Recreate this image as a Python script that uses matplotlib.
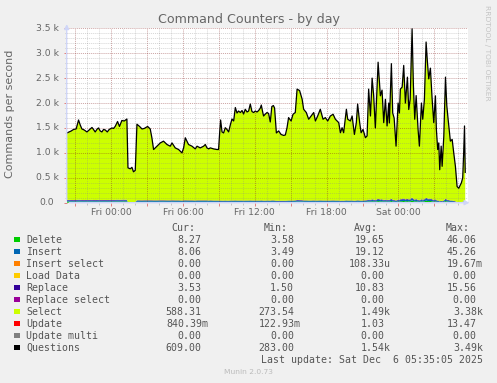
import numpy as np
import matplotlib.pyplot as plt
from matplotlib.patches import Rectangle
from matplotlib.ticker import MultipleLocator
import matplotlib.transforms as mtransforms


# data (hours since Fri 00:00) ------------------------------------------------
hours = [
    -3.70, -3.51, -3.34, -3.15, -2.93, -2.73, -2.59, -2.45, -2.26, -2.03,
    -1.84, -1.61, -1.51, -1.34, -1.17, -1.06, -0.92, -0.78, -0.64, -0.50,
    -0.33, -0.17, 0.06, 0.19, 0.33, 0.53, 0.69, 0.89, 1.09, 1.31,
    1.40, 1.59, 1.73, 1.86, 2.01, 2.15, 2.37, 2.57, 2.76, 3.04,
    3.26, 3.40, 3.54, 3.82, 4.10, 4.37, 4.66, 4.93, 5.08, 5.35,
    5.63, 5.91, 6.05, 6.19, 6.46, 6.75, 7.02, 7.17, 7.44, 7.72,
    7.86, 8.00, 8.14, 8.28, 8.55, 8.84, 8.97, 9.06, 9.14, 9.26,
    9.39, 9.53, 9.67, 9.81, 9.95, 10.09, 10.23, 10.37, 10.51, 10.64,
    10.79, 10.93, 11.06, 11.20, 11.35, 11.48, 11.62, 11.76, 11.90, 12.04,
    12.18, 12.32, 12.46, 12.54, 12.63, 12.73, 12.88, 13.02, 13.15, 13.29,
    13.42, 13.55, 13.65, 13.80, 13.99, 14.19, 14.41, 14.55, 14.69, 14.82,
    15.03, 15.19, 15.38, 15.53, 15.74, 15.95, 16.08, 16.30, 16.50, 16.70,
    16.92, 17.06, 17.25, 17.47, 17.70, 17.89, 18.09, 18.31, 18.54, 18.73,
    19.01, 19.15, 19.29, 19.42, 19.65, 19.76, 19.98, 20.13, 20.32, 20.48,
    20.59, 20.76, 20.88, 21.04, 21.24, 21.38, 21.51, 21.66, 21.80, 21.93,
    22.07, 22.30, 22.49, 22.63, 22.77, 22.91, 23.05, 23.19, 23.24, 23.41,
    23.52, 23.64, 23.80, 23.97, 24.08, 24.16, 24.31, 24.44, 24.58, 24.75,
    24.86, 24.98, 25.14, 25.25, 25.36, 25.48, 25.64, 25.75, 25.92, 26.03,
    26.17, 26.31, 26.42, 26.53, 26.67, 26.81, 26.95, 27.09, 27.17, 27.28,
    27.37, 27.45, 27.57, 27.65, 27.79, 27.93, 28.04, 28.15, 28.34, 28.49,
    28.62, 28.76, 28.90, 29.04, 29.26, 29.37, 29.45, 29.52, 29.58,
]

questions = [
    1400, 1420, 1440, 1470, 1480, 1660, 1560, 1480, 1460, 1420,
    1460, 1510, 1480, 1420, 1480, 1500, 1440, 1420, 1470, 1460,
    1420, 1470, 1500, 1490, 1530, 1630, 1530, 1650, 1640, 1680,
    700, 680, 710, 620, 650, 1575, 1530, 1480, 1490, 1530,
    1480, 1300, 1067, 1134, 1200, 1235, 1168, 1134, 1200, 1100,
    1067, 1000, 1100, 1303, 1168, 1134, 1080, 1134, 1100, 1134,
    1168, 1100, 1080, 1100, 1080, 1067, 1067, 1400, 1660, 1420,
    1400, 1505, 1470, 1420, 1560, 1680, 1640, 1910, 1800, 1840,
    1810, 1850, 1780, 1875, 1820, 1840, 1980, 1830, 1810, 1840,
    1820, 1850, 1900, 1960, 1850, 1740, 1780, 1810, 1790, 1620,
    1930, 1950, 1900, 1400, 1440, 1370, 1350, 1360, 1505, 1708,
    1640, 1775, 1810, 2280, 2250, 2080, 1875, 1810, 1675, 1740,
    1810, 1640, 1740, 1875, 1675, 1708, 1640, 1740, 1775, 1675,
    1607, 1405, 1505, 1405, 1875, 1675, 1640, 1740, 1370, 1607,
    1980, 1607, 1405, 1470, 1305, 1340, 2280, 1740, 2500, 2150,
    1500, 2820, 2145, 2260, 1607, 2075, 1540, 2000, 1600, 2790,
    1800, 1700, 1135, 2000, 1800, 2280, 2320, 2755, 2000, 2520,
    1870, 2080, 3490, 2350, 1675, 2150, 1470, 1135, 2000, 1675,
    2080, 3225, 2830, 2485, 2700, 2100, 1607, 2145, 1470, 1067,
    1200, 662, 1135, 730, 1335, 2520, 1950, 1675, 1235, 1270,
    1000, 730, 325, 290, 400, 500, 1000, 1540, 609,
]

delete = [
    22, 23, 22, 21, 22, 24, 23, 22, 21, 22,
    22, 23, 22, 21, 22, 23, 22, 21, 22, 22,
    21, 22, 23, 22, 23, 24, 23, 24, 24, 24,
    5, 4, 4, 3.6, 5, 19, 19, 18, 19, 19,
    19, 19, 18, 18, 19, 19, 18, 18, 19, 18,
    18, 17, 18, 19, 18, 18, 17, 18, 18, 18,
    18, 18, 17, 18, 17, 17, 17, 16, 17, 16,
    16, 17, 16, 16, 17, 17, 17, 18, 17, 17,
    17, 17, 16, 17, 17, 17, 18, 17, 17, 17,
    17, 17, 17, 18, 17, 16, 16, 17, 17, 16,
    18, 18, 17, 15, 15, 15, 15, 15, 16, 17,
    17, 17, 18, 22, 21, 20, 18, 18, 17, 17,
    18, 17, 17, 18, 17, 17, 17, 17, 18, 17,
    17, 15, 16, 15, 18, 17, 17, 17, 15, 17,
    19, 17, 16, 17, 18, 20, 26, 22, 28, 25,
    20, 32, 26, 28, 20, 26, 20, 25, 21, 34,
    24, 22, 16, 25, 24, 28, 30, 36, 26, 32,
    26, 28, 46, 32, 24, 30, 22, 18, 28, 24,
    28, 42, 36, 32, 35, 28, 22, 28, 20, 16,
    17, 10, 16, 11, 18, 32, 26, 22, 17, 17,
    14, 11, 5, 4, 6, 7, 13, 20, 8.27,
]

insert = [
    21, 22, 21, 20, 21, 23, 22, 21, 20, 21,
    21, 22, 21, 20, 21, 22, 21, 20, 21, 21,
    20, 21, 22, 21, 22, 23, 22, 23, 23, 23,
    4, 3.5, 4, 3.5, 4, 18, 18, 17, 18, 18,
    18, 18, 17, 17, 18, 18, 17, 17, 18, 17,
    17, 16, 17, 18, 17, 17, 16, 17, 17, 17,
    17, 17, 16, 17, 16, 16, 16, 15, 16, 15,
    15, 16, 15, 15, 16, 16, 16, 17, 16, 16,
    16, 16, 15, 16, 16, 16, 17, 16, 16, 16,
    16, 16, 16, 17, 16, 15, 15, 16, 16, 15,
    17, 17, 16, 14, 14, 14, 14, 14, 15, 16,
    16, 16, 17, 21, 20, 19, 17, 17, 16, 16,
    17, 16, 16, 17, 16, 16, 16, 16, 17, 16,
    16, 14, 15, 14, 17, 16, 16, 16, 14, 16,
    18, 16, 15, 16, 17, 19, 25, 21, 27, 24,
    19, 31, 25, 27, 19, 25, 19, 24, 20, 33,
    23, 21, 15, 24, 23, 27, 29, 35, 25, 31,
    25, 27, 45, 31, 23, 29, 21, 17, 27, 23,
    27, 41, 35, 31, 34, 27, 21, 27, 19, 15,
    16, 9, 15, 10, 17, 31, 25, 21, 16, 16,
    13, 10, 5, 4, 6, 7, 12, 19, 8.06,
]

replace = [
    12, 12, 12, 12, 12, 13, 12, 12, 12, 12,
    12, 12, 12, 12, 12, 12, 12, 12, 12, 12,
    12, 12, 12, 12, 12, 13, 12, 13, 13, 13,
    2, 1.5, 1.5, 1.5, 2, 11, 11, 11, 11, 11,
    11, 11, 11, 11, 11, 11, 11, 11, 11, 11,
    11, 10, 11, 11, 11, 11, 10, 11, 11, 11,
    11, 11, 10, 11, 10, 10, 10, 10, 10, 10,
    10, 10, 10, 10, 10, 10, 10, 10, 10, 10,
    10, 10, 10, 10, 10, 10, 10, 10, 10, 10,
    10, 10, 10, 10, 10, 10, 10, 10, 10, 10,
    10, 10, 10, 10, 10, 10, 10, 10, 10, 10,
    10, 10, 10, 11, 11, 11, 10, 10, 10, 10,
    10, 10, 10, 10, 10, 10, 10, 10, 10, 10,
    10, 10, 10, 10, 10, 10, 10, 10, 10, 10,
    10, 10, 10, 10, 11, 11, 12, 12, 12, 12,
    12, 13, 12, 13, 12, 12, 12, 12, 12, 13,
    12, 12, 11, 12, 12, 13, 13, 14, 13, 14,
    13, 13, 15.5, 14, 13, 13, 12, 12, 13, 13,
    13, 15, 14, 14, 14, 13, 12, 13, 12, 11,
    11, 7, 10, 7, 11, 14, 13, 12, 10, 10,
    9, 7, 2, 2, 3, 3, 7, 11, 3.53,
]

select = [
    1345, 1363, 1385, 1417, 1425, 1600, 1503, 1425, 1407, 1365,
    1405, 1453, 1425, 1367, 1425, 1443, 1385, 1367, 1415, 1405,
    1367, 1415, 1443, 1435, 1473, 1570, 1473, 1590, 1580, 1620,
    689, 671, 700, 611, 639, 1527, 1482, 1434, 1442, 1482,
    1432, 1252, 1021, 1088, 1152, 1187, 1122, 1088, 1152, 1054,
    1021, 957, 1054, 1255, 1122, 1088, 1037, 1088, 1054, 1088,
    1122, 1054, 1037, 1054, 1037, 1024, 1024, 1359, 1617, 1379,
    1359, 1462, 1429, 1379, 1517, 1637, 1597, 1865, 1757, 1797,
    1767, 1807, 1739, 1832, 1777, 1797, 1935, 1787, 1767, 1797,
    1777, 1807, 1857, 1915, 1807, 1699, 1739, 1767, 1747, 1579,
    1885, 1905, 1857, 1361, 1401, 1331, 1311, 1321, 1464, 1665,
    1597, 1732, 1765, 2226, 2198, 2030, 1830, 1765, 1632, 1697,
    1765, 1597, 1697, 1830, 1632, 1665, 1597, 1697, 1730, 1632,
    1564, 1366, 1464, 1366, 1830, 1632, 1597, 1697, 1331, 1564,
    1933, 1564, 1364, 1427, 1259, 1290, 2217, 1685, 2433, 2089,
    1449, 2744, 2082, 2192, 1556, 2012, 1489, 1939, 1547, 2710,
    1741, 1645, 1093, 1939, 1741, 2212, 2248, 2670, 1936, 2443,
    1806, 2012, 3383, 2273, 1615, 2078, 1415, 1088, 1932, 1615,
    2012, 3127, 2745, 2408, 2617, 2032, 1552, 2077, 1419, 1025,
    1156, 636, 1094, 702, 1289, 2443, 1886, 1620, 1192, 1227,
    964, 702, 313, 280, 385, 483, 968, 1490, 588.31,
]

# legend table ---------------------------------------------------------------
legend_names = ["Delete", "Insert", "Insert select", "Load Data", "Replace",
                "Replace select", "Select", "Update", "Update multi", "Questions"]
legend_colors = ["#00cc00", "#0066b3", "#ff8000", "#ffcc00", "#330099",
                 "#990099", "#ccff00", "#ff0000", "#808080", "#000000"]
cur_vals = ["8.27", "8.06", "0.00", "0.00", "3.53", "0.00", "588.31", "840.39m", "0.00", "609.00"]
min_vals = ["3.58", "3.49", "0.00", "0.00", "1.50", "0.00", "273.54", "122.93m", "0.00", "283.00"]
avg_vals = ["19.65", "19.12", "108.33u", "0.00", "10.83", "0.00", "1.49k", "1.03", "0.00", "1.54k"]
max_vals = ["46.06", "45.26", "19.67m", "0.00", "15.56", "0.00", "3.38k", "13.47", "0.00", "3.49k"]

xtick_hours = [0, 6, 12, 18, 24]
xtick_labels = ["Fri 00:00", "Fri 06:00", "Fri 12:00", "Fri 18:00", "Sat 00:00"]
ytick_vals = [0, 500, 1000, 1500, 2000, 2500, 3000, 3500]
ytick_labels = ["0.0", "0.5 k", "1.0 k", "1.5 k", "2.0 k", "2.5 k", "3.0 k", "3.5 k"]

W, H = 497, 383
font_col = "#666666"
axis_col = "#cfd6f8"


def fx(x):
    return x / W


def fy(y):
    return 1 - y / H


# figure ----------------------------------------------------------------------
fig = plt.figure(figsize=(W / 100, H / 100), dpi=100, facecolor="#f0f0f0")
ax = fig.add_axes([fx(66.7), fy(202.7), (467.5 - 66.7) / W, (202.7 - 28.3) / H])
ax.set_facecolor("white")

ax.stackplot(hours, delete, insert, replace, select,
             colors=[legend_colors[0], legend_colors[1], legend_colors[4], legend_colors[6]],
             linewidth=0, zorder=1)
ax.plot(hours, questions, color="black", lw=0.9, zorder=3)

# grid: major every 3 h / 500, minor every 1 h / 100
ax.set_axisbelow(False)
major_x = np.arange(-3, 30, 3)
ax.set_xticks(major_x)
ax.set_xticklabels([xtick_labels[xtick_hours.index(h)] if h in xtick_hours else "" for h in major_x])
ax.xaxis.set_minor_locator(MultipleLocator(1))
ax.yaxis.set_major_locator(MultipleLocator(500))
ax.yaxis.set_minor_locator(MultipleLocator(100))
ax.set_xlim(-3.72, 29.77)
ax.set_ylim(0, 3500)
ax.grid(which="major", color="#821e1e", alpha=0.4, linestyle=(0, (1, 1)), lw=0.7)
ax.grid(which="minor", color="#8c8c8c", alpha=0.35, linestyle=(0, (1, 1)), lw=0.7)

ax.set_yticklabels([])
ax.tick_params(axis="x", which="major", length=2, width=0.7, color="#e08080",
               labelsize=6.7, labelcolor=font_col, pad=2)
ax.tick_params(axis="y", which="major", length=2, width=0.7, color="#e08080")
ax.tick_params(which="minor", length=1.5, width=0.6, color="#bbbbbb")
for s in ax.spines.values():
    s.set_visible(False)

# y tick labels (rrdtool puts unit column after number)
trans = mtransforms.blended_transform_factory(ax.transAxes, ax.transData)
for v, lab in zip(ytick_vals, ytick_labels):
    right = 59.3 if lab.endswith("k") else 53.5
    ax.text((right - 66.7) / 400.8, v, lab, transform=trans, ha="right", va="center",
            fontsize=6.7, color=font_col)

# axes with arrows
ax.annotate("", xy=(1.012, 0), xytext=(0, 0), xycoords="axes fraction",
            arrowprops=dict(arrowstyle="-|>", color=axis_col, lw=1, mutation_scale=7),
            annotation_clip=False, zorder=4)
ax.annotate("", xy=(0, 1.04), xytext=(0, 0), xycoords="axes fraction",
            arrowprops=dict(arrowstyle="-|>", color=axis_col, lw=1, mutation_scale=7),
            annotation_clip=False, zorder=4)

# titles
fig.text(fx(248.5), fy(19.3), "Command Counters - by day", ha="center", va="center",
         fontsize=9.1, color=font_col)
fig.text(fx(10), fy(114), "Commands per second", rotation=90, ha="center", va="center",
         fontsize=8, color=font_col)
fig.text(fx(487.5), fy(5), "RRDTOOL / TOBI OETIKER", rotation=270, ha="center", va="top",
         fontsize=5.4, color="#c4c4c4")

# legend ------------------------------------------------------------------------
mono = "DejaVu Sans Mono"
leg_col = "#555555"
col_end = [201.7, 294.0, 384.3, 476.7]
for c, head in zip(col_end, ["Cur:", "Min:", "Avg:", "Max:"]):
    fig.text(fx(c - 6.6), fy(228), head, ha="right", va="center", family=mono,
             fontsize=7.1, color=leg_col)

for k, name in enumerate(legend_names):
    y = 239.7 + 12 * k
    fig.add_artist(Rectangle((fx(14.2), fy(y + 2.7)), 5.4 / W, 5.4 / H,
                             transform=fig.transFigure, color=legend_colors[k], lw=0))
    fig.text(fx(26.2), fy(y), name, ha="left", va="center", family=mono,
             fontsize=7.1, color=leg_col)
    for c, vals in zip(col_end, [cur_vals, min_vals, avg_vals, max_vals]):
        s = vals[k]
        right = c + 6.5 if s[-1].isalpha() else c
        fig.text(fx(right), fy(y), s, ha="right", va="center", family=mono,
                 fontsize=7.1, color=leg_col)

fig.text(fx(482.7), fy(360), "Last update: Sat Dec  6 05:35:05 2025", ha="right", va="center",
         family=mono, fontsize=7.1, color=leg_col)
fig.text(fx(248), fy(371.7), "Munin 2.0.73", ha="center", va="center", fontsize=5.4,
         color="#bbbbbb")

fig.savefig("out.png", dpi=100, facecolor=fig.get_facecolor())
